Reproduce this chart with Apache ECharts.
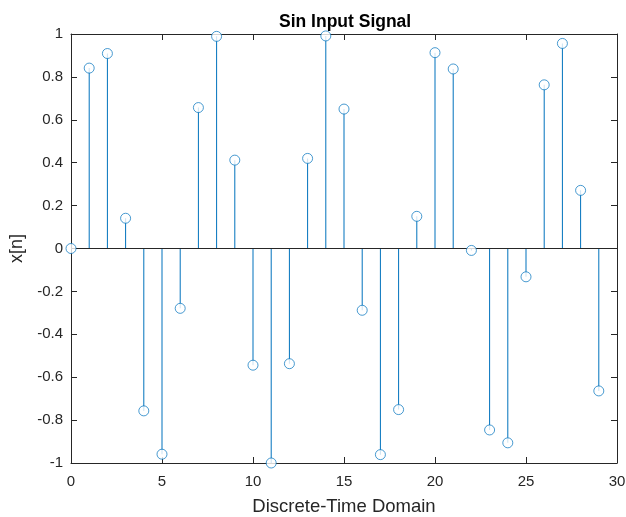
<!DOCTYPE html>
<html>
<head>
<meta charset="utf-8">
<script src="https://cdn.jsdelivr.net/npm/echarts@6/dist/echarts.min.js"></script>
<style>
  html, body { margin: 0; padding: 0; background: #fff; }
  #chart { width: 626px; height: 517px; }
</style>
</head>
<body>
<div id="chart"></div>
<script>
// sample index n and the signal value x[n]
const samples = [0, 1, 2, 3, 4, 5, 6, 7, 8, 9, 10, 11, 12, 13, 14, 15, 16, 17, 18, 19, 20, 21, 22, 23, 24, 25, 26, 27, 28, 29];
const values = [0, 0.841, 0.909, 0.141, -0.757, -0.959, -0.279, 0.657, 0.989, 0.412,
  -0.544, -1.0, -0.537, 0.420, 0.991, 0.650, -0.288, -0.961, -0.751, 0.150,
  0.913, 0.837, -0.009, -0.846, -0.906, -0.132, 0.763, 0.956, 0.271, -0.664];
const xTicks = [0, 5, 10, 15, 20, 25, 30];

const points = samples.map((n, i) => [n, values[i]]);
const font = 'Liberation Sans, Arial, sans-serif';
const axisCol = '#262626';
const blue = '#0072BD';

const chart = echarts.init(document.getElementById('chart'));

function tick() {
  return { show: true, inside: true, length: 6, lineStyle: { color: axisCol, width: 1 } };
}
function line() {
  return { show: true, onZero: false, lineStyle: { color: axisCol, width: 1 } };
}

chart.setOption({
  animation: false,
  backgroundColor: '#fff',
  title: {
    text: 'Sin Input Signal',
    left: 274, top: 8,
    textStyle: { fontFamily: font, fontSize: 17.5, fontWeight: 'bold', color: '#000' }
  },
  grid: { left: 71, right: 9, top: 34, bottom: 54, containLabel: false, outerBoundsMode: 'none' },
  xAxis: [
    {
      type: 'value', min: 0, max: 30, interval: 5,
      axisLine: line(), axisTick: tick(), splitLine: { show: false },
      axisLabel: { fontFamily: font, fontSize: 15, color: axisCol, margin: 11,
        formatter: v => xTicks.includes(v) ? String(v) : '' },
      name: 'Discrete-Time Domain', nameLocation: 'middle', nameGap: 34,
      nameTextStyle: { fontFamily: font, fontSize: 18.5, color: axisCol }
    },
    {
      type: 'value', min: 0, max: 30, interval: 5, position: 'top',
      axisLine: line(), axisTick: tick(), splitLine: { show: false },
      axisLabel: { show: false }
    }
  ],
  yAxis: [
    {
      type: 'value', min: -1, max: 1, interval: 0.2,
      axisLine: line(), axisTick: tick(), splitLine: { show: false },
      axisLabel: { fontFamily: font, fontSize: 15, color: axisCol, margin: 8,
        formatter: v => String(Math.round(v * 10) / 10) },
      name: 'x[n]', nameLocation: 'middle', nameGap: 44,
      nameTextStyle: { fontFamily: font, fontSize: 18, color: axisCol }
    },
    {
      type: 'value', min: -1, max: 1, interval: 0.2, position: 'right',
      axisLine: line(), axisTick: tick(), splitLine: { show: false },
      axisLabel: { show: false }
    }
  ],
  series: [
    {
      type: 'bar',
      data: points,
      barWidth: 1,
      itemStyle: { color: blue },
      markLine: {
        silent: true, symbol: 'none', label: { show: false },
        lineStyle: { color: axisCol, type: 'solid', width: 1 },
        data: [{ yAxis: 0 }]
      }
    },
    {
      type: 'scatter',
      data: points,
      symbol: 'circle',
      symbolSize: 10,
      itemStyle: { color: '#fff', borderColor: blue, borderWidth: 0.9 },
      z: 5
    }
  ]
});
</script>
</body>
</html>
